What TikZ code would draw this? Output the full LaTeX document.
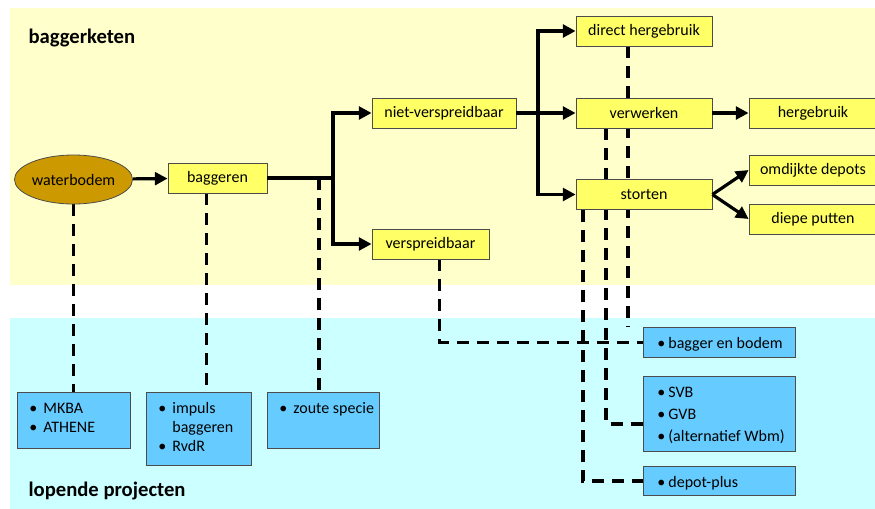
\documentclass[tikz,border=0pt]{standalone}
\usepackage{fontspec}
\setmainfont{Carlito}
\usepackage{tikz}
\usetikzlibrary{arrows.meta,shapes.geometric,backgrounds}
\usepackage{xcolor}
\definecolor{ketengeel}{HTML}{FFFFCC}
\definecolor{projectcyaan}{HTML}{CCFFFF}
\definecolor{stapgeel}{HTML}{FFFF66}
\definecolor{projectblauw}{HTML}{66CCFF}
\definecolor{bodembruin}{HTML}{CC9900}
\newcommand{\bol}[2][10.5pt]{\mbox{\makebox[#1][l]{\textbullet}#2}}

\begin{document}
\begin{tikzpicture}[x=0.75pt, y=-0.75pt, ->, >={Triangle[length=9.5pt,width=9.5pt]}, line width=2.4pt,
    font=\fontsize{12}{14.6}\selectfont,
    stap/.style={draw=black!70, line width=0.6pt, fill=stapgeel, minimum height=22.5pt, inner sep=0pt},
    bodem/.style={ellipse, draw=black!70, line width=0.6pt, fill=bodembruin, minimum width=84.75pt, minimum height=36.75pt, inner sep=0pt},
    project/.style={draw=black!70, line width=0.6pt, fill=projectblauw, anchor=north west, inner xsep=9pt, inner ysep=5.25pt},
    stippel/.style={-, line width=2.4pt, dash pattern=on 9pt off 6pt},
    titel/.style={anchor=base west, inner sep=0pt, font=\fontsize{15.5}{18}\selectfont\bfseries}]
        \useasboundingbox (0,0) rectangle (875,508);
        \clip (0,0) rectangle (875,508);
        \begin{scope}[on background layer]
            \fill[ketengeel] (10,8) rectangle (880,285);
            \fill[projectcyaan] (10,318) rectangle (880,510);
        \end{scope}

        \node[titel] (keten) at (27,43) {baggerketen};
        \node[titel] (lopend) at (27,496) {lopende projecten};

        \node[bodem] (water) at (73.5,179.5) {waterbodem};
        \node[stap, minimum width=74.25pt] (bagg) at (217.5,178) {baggeren};
        \node[stap, minimum width=108pt] (niet) at (444,113) {niet-verspreidbaar};
        \node[stap, minimum width=87.75pt] (versp) at (430.5,244) {verspreidbaar};
        \node[stap, minimum width=102pt] (direct) at (644,31) {direct hergebruik};
        \node[stap, minimum width=102pt] (verw) at (644,113) {verwerken};
        \node[stap, minimum width=102pt] (stort) at (644,194.5) {storten};
        \node[stap, minimum width=96pt] (herg) at (813,113) {hergebruik};
        \node[stap, minimum width=96pt] (omdijk) at (813,170) {omdijkte depots};
        \node[stap, minimum width=96pt] (diep) at (813,219) {diepe putten};

        \node[project] (mkba) at (17,392) {\parbox[t][31.5pt][t]{66.75pt}{\strut\bol{MKBA}\\\bol{ATHENE}}};
        \node[project] (impuls) at (146,392) {\parbox[t][44.25pt][t]{60.75pt}{\strut\bol{impuls}\\\hspace*{10.5pt}baggeren\\\bol{RvdR}}};
        \node[project] (zoute) at (267,392) {\parbox[t][31.5pt][t]{66pt}{\strut\bol{zoute specie}}};
        \node[project, inner xsep=10.5pt] (bodemproj) at (643,327) {\parbox[t][12pt][t]{93pt}{\strut\bol[8.25pt]{bagger en bodem}}};
        \node[project, inner xsep=10.5pt] (svb) at (643,376) {\parbox[t][45.75pt][t]{93pt}{\baselineskip=16.5pt\strut\bol[8.25pt]{SVB}\\\bol[8.25pt]{GVB}\\\bol[8.25pt]{(alternatief Wbm)}}};
        \node[project, inner xsep=10.5pt] (depot) at (643,466) {\parbox[t][11.25pt][t]{93pt}{\strut\bol[8.25pt]{depot-plus}}};

        \coordinate (split1) at (333,178);
        \coordinate (split2) at (538,113);
        \coordinate (tak) at (319,178);

        \draw (water) -- (bagg);
        \draw[-] (bagg) -- (split1);
        \draw (split1) |- (niet);
        \draw (split1) |- (versp);
        \draw[-] (niet) -- (split2);
        \draw (split2) |- (direct);
        \draw (split2) -- (verw);
        \draw (split2) |- (stort);
        \draw (verw) -- (herg);
        \draw (stort.east) -- (omdijk.west);
        \draw (stort.east) -- (diep.west);

        \begin{scope}[on background layer]
            \draw[stippel] (water.south) -- (water.south |- mkba.north);
            \draw[stippel] ([xshift=-8.25pt]bagg.south) -- ([xshift=-8.25pt]bagg.south |- impuls.north);
            \draw[stippel] (tak) -- (tak |- zoute.north);
            \draw[stippel] ([xshift=7pt]versp.south) |- (bodemproj.west);
            \draw[stippel] ([xshift=-12pt]direct.south) -- ([xshift=-12pt]direct.south |- bodemproj.north);
            \draw[stippel] ([xshift=-28.5pt]verw.south) |- ([yshift=-7.5pt]svb.west);
            \draw[stippel] ([xshift=-45.75pt]stort.south) |- (depot.west);
        \end{scope}
    \end{tikzpicture}
\end{document}
